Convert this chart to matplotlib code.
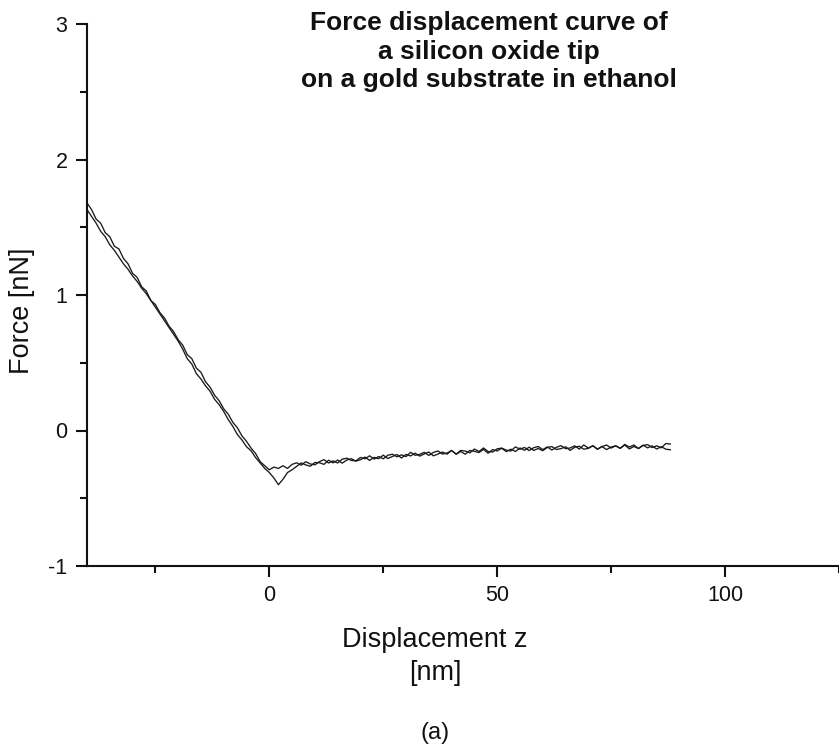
import matplotlib
matplotlib.use("Agg")
import matplotlib.pyplot as plt
from matplotlib.ticker import MultipleLocator

plt.rcParams['font.family'] = ['Liberation Sans', 'DejaVu Sans']
plt.rcParams['axes.unicode_minus'] = False

# displacement sampling grid [nm]
z_nm = list(range(-40, 89))

# approach curve (no adhesion dip)
force_approach = [
    1.68, 1.63, 1.56, 1.53, 1.46, 1.43, 1.36, 1.34, 1.27, 1.23,
    1.16, 1.13, 1.06, 1.03, 0.96, 0.93, 0.87, 0.83, 0.77, 0.73,
    0.67, 0.63, 0.56, 0.53, 0.46, 0.43, 0.36, 0.32, 0.26, 0.22,
    0.16, 0.12, 0.06, 0.02, -0.04, -0.08, -0.13, -0.17, -0.23, -0.26,
    -0.29, -0.27, -0.28, -0.26, -0.28, -0.25,
    -0.238, -0.256, -0.230, -0.247, -0.253, -0.230, -0.215, -0.240, -0.224, -0.240,
    -0.212, -0.204, -0.221, -0.224, -0.199, -0.209, -0.187, -0.211, -0.192, -0.209,
    -0.183, -0.175, -0.194, -0.180, -0.193, -0.161, -0.183, -0.176, -0.161, -0.184,
    -0.162, -0.151, -0.174, -0.166, -0.148, -0.174, -0.147, -0.152, -0.165, -0.137,
    -0.155, -0.129, -0.155, -0.159, -0.135, -0.130, -0.145, -0.151, -0.121, -0.138,
    -0.125, -0.148, -0.127, -0.118, -0.141, -0.121, -0.144, -0.124, -0.112, -0.134,
    -0.129, -0.113, -0.137, -0.107, -0.129, -0.113, -0.137, -0.119, -0.107, -0.130,
    -0.113, -0.131, -0.103, -0.122, -0.107, -0.133, -0.111, -0.104, -0.126, -0.113,
    -0.128, -0.096, -0.100,
]

# retract curve (with adhesion dip near contact)
force_retract = [
    1.63, 1.58, 1.53, 1.47, 1.43, 1.37, 1.33, 1.28, 1.23, 1.19,
    1.14, 1.10, 1.05, 1.01, 0.96, 0.91, 0.86, 0.81, 0.76, 0.71,
    0.66, 0.60, 0.53, 0.49, 0.42, 0.38, 0.33, 0.29, 0.23, 0.19,
    0.14, 0.08, 0.03, -0.03, -0.07, -0.12, -0.15, -0.20, -0.24, -0.28,
    -0.31, -0.35, -0.40, -0.36, -0.31, -0.29,
    -0.265, -0.239, -0.254, -0.264, -0.236, -0.238, -0.250, -0.219, -0.239, -0.218,
    -0.241, -0.218, -0.208, -0.226, -0.216, -0.196, -0.221, -0.198, -0.208, -0.182,
    -0.207, -0.192, -0.177, -0.203, -0.176, -0.188, -0.167, -0.189, -0.173, -0.159,
    -0.187, -0.174, -0.159, -0.175, -0.147, -0.175, -0.155, -0.175, -0.147, -0.154,
    -0.163, -0.139, -0.168, -0.141, -0.151, -0.131, -0.156, -0.138, -0.155, -0.129,
    -0.146, -0.123, -0.147, -0.133, -0.149, -0.125, -0.119, -0.140, -0.134, -0.120,
    -0.147, -0.124, -0.116, -0.138, -0.132, -0.112, -0.139, -0.118, -0.141, -0.122,
    -0.113, -0.132, -0.107, -0.136, -0.118, -0.133, -0.108, -0.128, -0.113, -0.137,
    -0.119, -0.138, -0.142,
]

x_ticks = [0, 50, 100]
y_ticks = [-1, 0, 1, 2, 3]
title_lines = ["Force displacement curve of",
               "a silicon oxide tip",
               "on a gold substrate in ethanol"]

fig = plt.figure(figsize=(8.39, 7.47), dpi=100)
ax = fig.add_axes([87/839, 1 - 566/747, 1 - 87/839, (566 - 24)/747])

ax.plot(z_nm, force_approach, color='#1a1a1a', lw=0.95)
ax.plot(z_nm, force_retract, color='#1a1a1a', lw=0.95)

ax.set_xlim(-40, 125)
ax.set_ylim(-1, 3)
ax.set_xticks(x_ticks)
ax.set_yticks(y_ticks)
ax.xaxis.set_minor_locator(MultipleLocator(25))
ax.yaxis.set_minor_locator(MultipleLocator(0.5))

for s in ['top', 'right']:
    ax.spines[s].set_visible(False)
for s in ['left', 'bottom']:
    ax.spines[s].set_linewidth(1.5)
    ax.spines[s].set_color('#111111')

ax.tick_params(which='major', direction='out', length=8, width=1.5,
               labelsize=15.5, colors='#111111')
ax.tick_params(which='minor', direction='out', length=5, width=1.5,
               colors='#111111')
ax.tick_params(axis='x', which='major', pad=6)
ax.tick_params(axis='y', which='major', pad=6)

for yy, line in zip([23, 52, 80], title_lines):
    fig.text(489/839, 1 - yy/747, line, ha='center', va='center',
             fontsize=19, fontweight='bold', color='#111111')
fig.text(435/839, 1 - 640/747, "Displacement z", ha='center', va='center',
         fontsize=19.5, color='#111111')
fig.text(435/839, 1 - 673/747, "[nm]", ha='center', va='center',
         fontsize=19.5, color='#111111')
fig.text(22/839, 1 - 311/747, "Force [nN]", ha='center', va='center',
         rotation=90, fontsize=19.5, color='#111111')
fig.text(435/839, 1 - 733/747, "(a)", ha='center', va='center',
         fontsize=17, color='#111111')

fig.savefig("out.png", dpi=100)
